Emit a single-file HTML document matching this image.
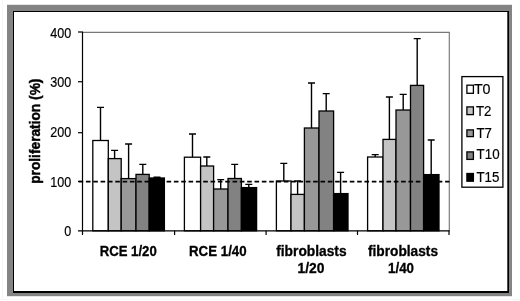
<!DOCTYPE html>
<html><head><meta charset="utf-8"><title>proliferation chart</title>
<style>
html,body{margin:0;padding:0;background:#fff;}
body{width:520px;height:301px;overflow:hidden;}
svg{display:block;}
text{font-family:"Liberation Sans",Arial,sans-serif;fill:#000;stroke:#000;stroke-width:0.18px;}
.b{font-weight:bold;stroke:#000;stroke-width:0.3px;}
</style></head><body>
<svg width="520" height="301" viewBox="0 0 520 301">
<rect x="0" y="0" width="520" height="301" fill="#ffffff"/>
<rect x="2" y="0" width="1" height="301" fill="#f6f6f6"/>
<rect x="0" y="299" width="520" height="1" fill="#f6f6f6"/>
<rect x="7" y="4.8" width="505" height="291.4" fill="#848484"/>
<rect x="13" y="11" width="496" height="282" fill="#000000"/>
<rect x="14" y="12" width="493.3" height="279" fill="#ffffff"/>

<path d="M83 32.35 H449.3 V231" fill="none" stroke="#787878" stroke-width="1.15"/>
<rect x="92.8" y="140.5" width="15.5" height="90.3" fill="#ffffff" stroke="#000" stroke-width="1.3"/>
<rect x="108.3" y="158.6" width="12.9" height="72.2" fill="#c4c4c4" stroke="#000" stroke-width="1.3"/>
<rect x="121.2" y="178.6" width="14.8" height="52.2" fill="#989898" stroke="#000" stroke-width="1.3"/>
<rect x="136.0" y="174.4" width="13.2" height="56.4" fill="#828282" stroke="#000" stroke-width="1.3"/>
<rect x="149.2" y="178.0" width="15.2" height="52.8" fill="#000000" stroke="#000" stroke-width="1.3"/>
<rect x="184.4" y="157.2" width="16.2" height="73.6" fill="#ffffff" stroke="#000" stroke-width="1.3"/>
<rect x="200.6" y="166.0" width="13.0" height="64.8" fill="#c4c4c4" stroke="#000" stroke-width="1.3"/>
<rect x="213.6" y="189.0" width="14.4" height="41.8" fill="#989898" stroke="#000" stroke-width="1.3"/>
<rect x="228.0" y="178.5" width="13.4" height="52.3" fill="#828282" stroke="#000" stroke-width="1.3"/>
<rect x="241.4" y="187.6" width="15.2" height="43.2" fill="#000000" stroke="#000" stroke-width="1.3"/>
<rect x="276.4" y="181.0" width="14.6" height="49.8" fill="#ffffff" stroke="#000" stroke-width="1.3"/>
<rect x="291.0" y="194.4" width="13.4" height="36.4" fill="#c4c4c4" stroke="#000" stroke-width="1.3"/>
<rect x="304.4" y="128.0" width="14.6" height="102.8" fill="#989898" stroke="#000" stroke-width="1.3"/>
<rect x="319.0" y="111.0" width="14.6" height="119.8" fill="#828282" stroke="#000" stroke-width="1.3"/>
<rect x="333.6" y="193.6" width="14.4" height="37.2" fill="#000000" stroke="#000" stroke-width="1.3"/>
<rect x="367.6" y="157.0" width="15.4" height="73.8" fill="#ffffff" stroke="#000" stroke-width="1.3"/>
<rect x="383.0" y="139.4" width="13.0" height="91.4" fill="#c4c4c4" stroke="#000" stroke-width="1.3"/>
<rect x="396.0" y="110.0" width="14.5" height="120.8" fill="#989898" stroke="#000" stroke-width="1.3"/>
<rect x="410.5" y="85.4" width="13.1" height="145.4" fill="#828282" stroke="#000" stroke-width="1.3"/>
<rect x="423.6" y="174.6" width="15.4" height="56.2" fill="#000000" stroke="#000" stroke-width="1.3"/>
<path d="M78.6 181.5 H449.5" stroke="#000" stroke-width="1.75" stroke-dasharray="4.6 2.73" fill="none"/>
<path d="M100.5 140.5 V107.4 M97.0 107.4 H104.0" stroke="#000" stroke-width="1.4" fill="none"/>
<path d="M114.6 158.6 V150.4 M111.1 150.4 H118.1" stroke="#000" stroke-width="1.4" fill="none"/>
<path d="M128.6 178.6 V144.0 M125.1 144.0 H132.1" stroke="#000" stroke-width="1.4" fill="none"/>
<path d="M142.8 174.4 V164.4 M139.3 164.4 H146.3" stroke="#000" stroke-width="1.4" fill="none"/>
<path d="M157.0 178.0 V177.2 M153.5 177.2 H160.5" stroke="#000" stroke-width="1.4" fill="none"/>
<path d="M192.5 157.2 V134.0 M189.0 134.0 H196.0" stroke="#000" stroke-width="1.4" fill="none"/>
<path d="M206.8 166.0 V157.0 M203.3 157.0 H210.3" stroke="#000" stroke-width="1.4" fill="none"/>
<path d="M220.7 189.0 V179.6 M217.2 179.6 H224.2" stroke="#000" stroke-width="1.4" fill="none"/>
<path d="M234.7 178.5 V164.4 M231.2 164.4 H238.2" stroke="#000" stroke-width="1.4" fill="none"/>
<path d="M248.8 187.6 V184.4 M245.3 184.4 H252.3" stroke="#000" stroke-width="1.4" fill="none"/>
<path d="M283.8 181.0 V163.4 M280.3 163.4 H287.3" stroke="#000" stroke-width="1.4" fill="none"/>
<path d="M297.6 194.4 V181.0 M294.1 181.0 H301.1" stroke="#000" stroke-width="1.4" fill="none"/>
<path d="M311.5 128.0 V83.0 M308.0 83.0 H315.0" stroke="#000" stroke-width="1.4" fill="none"/>
<path d="M326.2 111.0 V93.6 M322.7 93.6 H329.7" stroke="#000" stroke-width="1.4" fill="none"/>
<path d="M340.6 193.6 V172.4 M337.1 172.4 H344.1" stroke="#000" stroke-width="1.4" fill="none"/>
<path d="M375.2 157.0 V154.6 M371.7 154.6 H378.7" stroke="#000" stroke-width="1.4" fill="none"/>
<path d="M389.4 139.4 V97.0 M385.9 97.0 H392.9" stroke="#000" stroke-width="1.4" fill="none"/>
<path d="M403.2 110.0 V94.4 M399.7 94.4 H406.7" stroke="#000" stroke-width="1.4" fill="none"/>
<path d="M417.2 85.4 V38.6 M413.7 38.6 H420.7" stroke="#000" stroke-width="1.4" fill="none"/>
<path d="M431.2 174.6 V140.0 M427.7 140.0 H434.7" stroke="#000" stroke-width="1.4" fill="none"/>
<path d="M82.5 32 V235 M78 230.8 H449.6" stroke="#000" stroke-width="1.2" fill="none"/>
<path d="M78 32.0 H83" stroke="#000" stroke-width="1.2"/>
<path d="M78 81.75 H83" stroke="#000" stroke-width="1.2"/>
<path d="M78 132.7 H83" stroke="#000" stroke-width="1.2"/>
<path d="M78 181.4 H83" stroke="#000" stroke-width="1.2"/>
<path d="M174.6 230.8 V235" stroke="#000" stroke-width="1.2"/>
<path d="M266.1 230.8 V235" stroke="#000" stroke-width="1.2"/>
<path d="M357.5 230.8 V235" stroke="#000" stroke-width="1.2"/>
<path d="M449.0 230.8 V235" stroke="#000" stroke-width="1.2"/>
<text font-size="14" text-anchor="end" transform="translate(71.3 37.5) scale(0.9 1)">400</text>
<text font-size="14" text-anchor="end" transform="translate(71.3 87.25) scale(0.9 1)">300</text>
<text font-size="14" text-anchor="end" transform="translate(71.3 136.8) scale(0.9 1)">200</text>
<text font-size="14" text-anchor="end" transform="translate(71.3 186.7) scale(0.9 1)">100</text>
<text font-size="14" text-anchor="end" transform="translate(71.3 236.2) scale(0.9 1)">0</text>
<text class="b" font-size="14" text-anchor="middle" transform="translate(40.2 131.2) rotate(-90)" style="stroke-width:0.45px" textLength="105.2" lengthAdjust="spacingAndGlyphs">proliferation (%)</text>
<text class="b" font-size="14" text-anchor="middle" transform="translate(128.2 255.8) scale(0.94 1)">RCE 1/20</text>
<text class="b" font-size="14" text-anchor="middle" transform="translate(217.8 255.7) scale(0.95 1)">RCE 1/40</text>
<text class="b" font-size="14" text-anchor="middle" transform="translate(311.4 256.0) scale(0.985 1)">fibroblasts</text>
<text class="b" font-size="14" text-anchor="middle" transform="translate(311.0 272.8) scale(0.99 1)">1/20</text>
<text class="b" font-size="14" text-anchor="middle" transform="translate(403.0 255.8) scale(0.98 1)">fibroblasts</text>
<text class="b" font-size="14" text-anchor="middle" transform="translate(401.0 272.8) scale(0.95 1)">1/40</text>
<rect x="461.9" y="76.6" width="41.0" height="110.6" fill="#fff" stroke="#000" stroke-width="1.3"/>
<rect x="466.9" y="85.2" width="6.5" height="8.1" fill="#ffffff" stroke="#000" stroke-width="1.3"/>
<text font-size="14" text-anchor="start" transform="translate(473.9 94.0) scale(1.02 1)">T0</text>
<rect x="466.9" y="106.9" width="6.5" height="7.7" fill="#c4c4c4" stroke="#000" stroke-width="1.3"/>
<text font-size="14" text-anchor="start" transform="translate(475.9 115.7) scale(0.95 1)">T2</text>
<rect x="466.9" y="129.9" width="6.5" height="6.7" fill="#989898" stroke="#000" stroke-width="1.3"/>
<text font-size="14" text-anchor="start" transform="translate(476.4 137.5) scale(0.95 1)">T7</text>
<rect x="466.9" y="151.9" width="6.5" height="7.5" fill="#828282" stroke="#000" stroke-width="1.3"/>
<text font-size="14" text-anchor="start" transform="translate(476.6 159.0) scale(0.955 1)">T10</text>
<rect x="466.9" y="173.5" width="6.5" height="7.7" fill="#000000" stroke="#000" stroke-width="1.3"/>
<text font-size="14" text-anchor="start" transform="translate(476.4 181.7) scale(0.955 1)">T15</text>
</svg></body></html>
